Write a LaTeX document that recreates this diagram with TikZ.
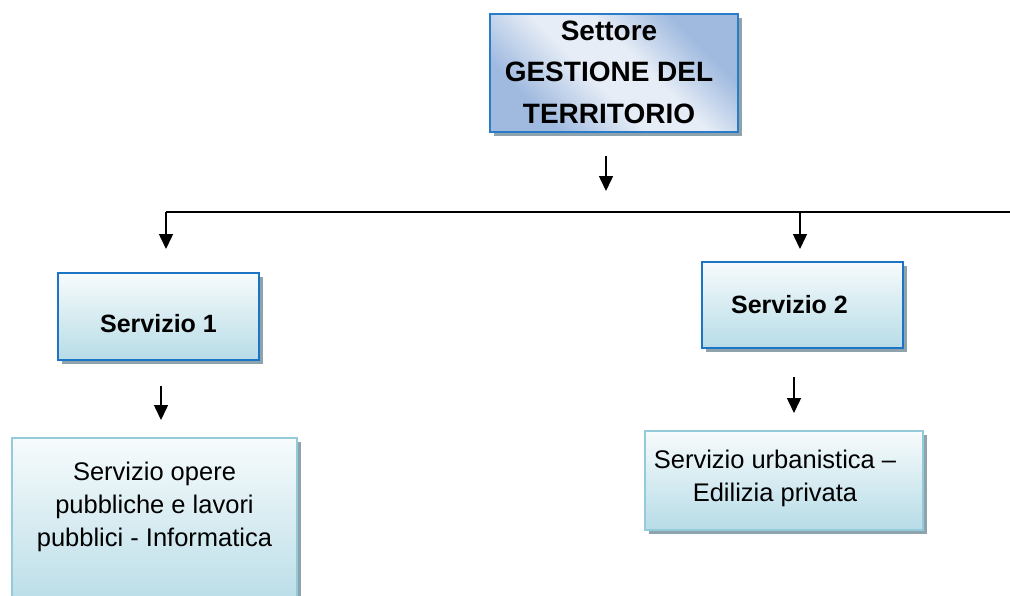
\documentclass[tikz,border=0pt]{standalone}
\usepackage{fontspec}
\setmainfont{Liberation Sans}
\usetikzlibrary{arrows.meta,shadows}
\definecolor{topborder}{HTML}{2A7BC8}
\definecolor{topdark}{HTML}{9FB9DF}
\definecolor{toplight}{HTML}{E6EDF6}
\definecolor{svcborder}{HTML}{1B74C6}
\definecolor{svctop}{HTML}{F7FBFC}
\definecolor{svcbottom}{HTML}{B7DCE7}
\definecolor{subborder}{HTML}{93CBDB}
\definecolor{shadowgray}{HTML}{8FA3AD}
\pgfdeclarehorizontalshading{topshade}{100bp}{color(0bp)=(topdark); color(28bp)=(topdark); color(45bp)=(toplight); color(57bp)=(toplight); color(72bp)=(topdark); color(100bp)=(topdark)}
\newcommand{\placetext}[2]{\raisebox{#1}[0pt][0pt]{\begin{tabular}[t]{@{}c@{}}#2\end{tabular}}}
\tikzset{
  boxshadow/.style={drop shadow={shadow xshift=4pt, shadow yshift=-4pt, fill=shadowgray, opacity=1}},
  topbox/.style={rectangle, draw=topborder, line width=2.5pt, shading=topshade, shading angle=45, boxshadow, inner sep=0pt, font=\bfseries\fontsize{28}{41.5}\selectfont},
  svcbox/.style={rectangle, draw=svcborder, line width=2.5pt, top color=svctop, bottom color=svcbottom, boxshadow, inner sep=0pt, font=\bfseries\fontsize{25}{30}\selectfont},
  subbox/.style={rectangle, draw=subborder, line width=2.5pt, top color=svctop, bottom color=svcbottom, boxshadow, inner sep=0pt, font=\fontsize{25.5}{33}\selectfont},
  conn/.style={line width=1.5pt, black},
  arr/.style={conn, -{Triangle[width=14pt,length=15pt]}}
}
\begin{document}
\begin{tikzpicture}[x=1pt,y=-1pt]
\useasboundingbox (0,0) rectangle (1010,595);
% top box
\node[topbox, minimum width=248pt, minimum height=118pt] (settore) at (614,73)
  {\hspace*{-10pt}\placetext{33pt}{Settore\\GESTIONE DEL\\TERRITORIO}};
% service boxes
\node[svcbox, minimum width=201pt, minimum height=87pt] (s1) at (158.5,316.5) {\placetext{-15.5pt}{Servizio 1}};
\node[svcbox, minimum width=201pt, minimum height=86pt] (s2) at (802.5,305) {\hspace*{-26pt}\placetext{-8pt}{Servizio 2}};
% sub boxes
\node[subbox, minimum width=285pt, minimum height=174pt] (b3) at (154.5,525)
  {\placetext{45pt}{Servizio opere\\pubbliche e lavori\\pubblici - Informatica}};
\node[subbox, minimum width=278pt, minimum height=99pt] (b4) at (784,480.5)
  {\hspace*{-18pt}\placetext{12.5pt}{Servizio urbanistica –\\Edilizia privata}};
% connectors
\coordinate (a0s) at (606,156);
\coordinate (a0e) at (606,191);
\coordinate (hl) at (166,212);
\coordinate (hm) at (800,212);
\coordinate (hr) at (1010,212);
\coordinate (d1) at (166,249);
\coordinate (d2) at (800,249);
\coordinate (a3s) at (161,386);
\coordinate (a3e) at (161,420);
\coordinate (a4s) at (794,377);
\coordinate (a4e) at (794,413);
\draw[arr] (a0s) -- (a0e);
\draw[conn] (hl) -- (hr);
\draw[arr] (hl) -- (d1);
\draw[arr] (hm) -- (d2);
\draw[arr] (a3s) -- (a3e);
\draw[arr] (a4s) -- (a4e);
\end{tikzpicture}
\end{document}
